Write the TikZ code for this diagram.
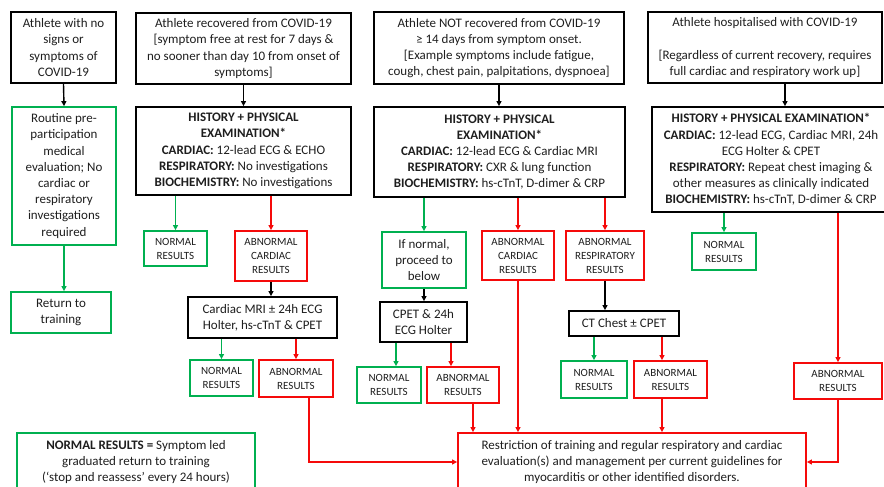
\documentclass[tikz,border=0pt]{standalone}
\usepackage{fontspec}
\setmainfont{Carlito}
\usetikzlibrary{arrows.meta}
\definecolor{gr}{RGB}{0,176,80}
\definecolor{rd}{RGB}{245,10,10}
\definecolor{tx}{RGB}{30,30,30}
\tikzset{
  box/.style={draw=black, line width=1.8pt, inner sep=0pt, align=center, text=tx,
    font=\fontsize{13}{16.2}\selectfont},
  gbox/.style={box, draw=gr},
  rbox/.style={box, draw=rd},
  sm/.style={font=\fontsize{11}{14}\selectfont},
  tip/.style={-{Triangle[length=5pt,width=5pt]}},
  karrow/.style={tip, line width=1.4pt, draw=black},
  garrow/.style={tip, line width=1.4pt, draw=gr},
  rarrow/.style={tip, line width=1.4pt, draw=rd},
}
\begin{document}
\begin{tikzpicture}[x=1pt,y=-1pt]
\useasboundingbox (0,0) rectangle (884,487);
% top row
\node[box, minimum width=105pt, minimum height=71pt] (A) at (63.5,47.5)
  {Athlete with no\\signs or\\symptoms of\\COVID-19};
\node[box, minimum width=215pt, minimum height=71pt] (B) at (243.5,48.5)
  {Athlete recovered from COVID-19\\{[}symptom free at rest for 7 days \&\\no sooner than day 10 from onset of\\symptoms{]}};
\node[box, minimum width=250pt, minimum height=72pt] (D) at (499,48)
  {Athlete NOT recovered from COVID-19\\≥ 14 days from symptom onset.\\{[}Example symptoms include fatigue,\\cough, chest pain, palpitations, dyspnoea{]}};
\node[box, minimum width=234pt, minimum height=71pt] (F) at (765,47.5)
  {Athlete hospitalised with COVID-19\\[16.2pt]{[}Regardless of current recovery, requires\\full cardiac and respiratory work up{]}};
% second row
\node[gbox, minimum width=104pt, minimum height=138pt] (RP) at (64,176)
  {Routine pre-\\participation\\medical\\evaluation; No\\cardiac or\\respiratory\\investigations\\required};
\node[box, minimum width=215pt, minimum height=88pt] (C) at (243.5,151)
  {\textbf{HISTORY + PHYSICAL}\\\textbf{EXAMINATION*}\\\textbf{CARDIAC:} 12-lead ECG \& ECHO\\\textbf{RESPIRATORY:} No investigations\\\textbf{BIOCHEMISTRY:} No investigations};
\node[box, minimum width=251pt, minimum height=90pt] (E) at (499.5,152)
  {\textbf{HISTORY + PHYSICAL}\\\textbf{EXAMINATION*}\\\textbf{CARDIAC:} 12-lead ECG \& Cardiac MRI\\\textbf{RESPIRATORY:} CXR \& lung function\\\textbf{BIOCHEMISTRY:} hs-cTnT, D-dimer \& CRP};
\node[box, minimum width=238pt, minimum height=105pt] (G) at (771,159.5)
  {\textbf{HISTORY + PHYSICAL EXAMINATION*}\\\textbf{CARDIAC:} 12-lead ECG, Cardiac MRI, 24h\\ECG Holter \& CPET\\\textbf{RESPIRATORY:} Repeat chest imaging \&\\other measures as clinically indicated\\\textbf{BIOCHEMISTRY:} hs-cTnT, D-dimer \& CRP};
% third row
\node[gbox, sm, minimum width=63pt, minimum height=35pt] (N1) at (175.5,248.5) {NORMAL\\RESULTS};
\node[rbox, sm, minimum width=72pt, minimum height=50pt] (AC1) at (271,256) {ABNORMAL\\CARDIAC\\RESULTS};
\node[gbox, minimum width=84pt, minimum height=56pt] (IFN) at (424,260) {If normal,\\proceed to\\below};
\node[rbox, sm, minimum width=72pt, minimum height=49pt] (AC2) at (518,255.5) {ABNORMAL\\CARDIAC\\RESULTS};
\node[rbox, sm, minimum width=78pt, minimum height=49pt] (AR) at (605,255.5) {ABNORMAL\\RESPIRATORY\\RESULTS};
\node[gbox, sm, minimum width=64pt, minimum height=37pt] (N6) at (724,251.5) {NORMAL\\RESULTS};
% fourth row
\node[gbox, minimum width=100pt, minimum height=41pt] (RT) at (61,312.5) {Return to\\training};
\node[box, minimum width=149pt, minimum height=41pt] (MRI) at (262.5,317.5) {Cardiac MRI ± 24h ECG\\Holter, hs-cTnT \& CPET};
\node[box, minimum width=87pt, minimum height=40pt] (CPET) at (423.5,322) {CPET \& 24h\\ECG Holter};
\node[box, minimum width=110pt, minimum height=25pt] (CT) at (624,323.5) {CT Chest ± CPET};
% fifth row
\node[gbox, sm, minimum width=63pt, minimum height=36pt] (N2) at (221.5,378) {NORMAL\\RESULTS};
\node[rbox, sm, minimum width=74pt, minimum height=37pt] (AB2) at (296,378.5) {ABNORMAL\\RESULTS};
\node[gbox, sm, minimum width=64pt, minimum height=36pt] (N3) at (389,385) {NORMAL\\RESULTS};
\node[rbox, sm, minimum width=72pt, minimum height=36pt] (AB3) at (463,385) {ABNORMAL\\RESULTS};
\node[gbox, sm, minimum width=66pt, minimum height=37pt] (N5) at (594,379.5) {NORMAL\\RESULTS};
\node[rbox, sm, minimum width=73pt, minimum height=37pt] (AB5) at (670.5,379.5) {ABNORMAL\\RESULTS};
\node[rbox, sm, minimum width=88pt, minimum height=36pt] (AB6) at (838,381) {ABNORMAL\\RESULTS};
% bottom
\node[gbox, minimum width=238pt, minimum height=58pt] (NR) at (136,462)
  {\textbf{NORMAL RESULTS =} Symptom led\\graduated return to training\\(‘stop and reassess’ every 24 hours)};
\node[rbox, minimum width=348pt, minimum height=58pt] (R) at (632,462)
  {Restriction of training and regular respiratory and cardiac\\evaluation(s) and management per current guidelines for\\myocarditis or other identified disorders.};
% helper coordinates
\coordinate (f1) at ([xshift=20pt]F.south);
\coordinate (n3) at ([xshift=7pt]N3.north);
\coordinate (a3t) at ([xshift=-12pt]AB3.north);
\coordinate (a3b) at ([xshift=10pt]AB3.south);
\coordinate (a5t) at ([xshift=-8.5pt]AB5.north);
\coordinate (a5b) at ([xshift=-8.5pt]AB5.south);
\coordinate (a2b) at ([xshift=13pt]AB2.south);
% connectors
\draw[karrow] (A.south) -- (RP.north);
\draw[garrow] (RP.south) -- (RP.south |- RT.north);
\draw[karrow] (B.south) -- (C.north);
\draw[karrow] (D.south) -- (D.south |- E.north);
\draw[karrow] (f1) -- (f1 |- G.north);
\draw[garrow] (C.south -| N1.north) -- (N1.north);
\draw[rarrow] (C.south -| AC1.north) -- (AC1.north);
\draw[karrow] (AC1.south) -- (AC1.south |- MRI.north);
\draw[garrow] (MRI.south -| N2.north) -- (N2.north);
\draw[rarrow] (MRI.south -| AB2.north) -- (AB2.north);
\draw[rarrow] (a2b) |- (R.west);
\draw[garrow] (E.south -| IFN.north) -- (IFN.north);
\draw[rarrow] (E.south -| AC2.north) -- (AC2.north);
\draw[rarrow] (E.south -| AR.north) -- (AR.north);
\draw[karrow] (IFN.south) -- (IFN.south |- CPET.north);
\draw[garrow] (CPET.south -| n3) -- (n3);
\draw[rarrow] (CPET.south -| a3t) -- (a3t);
\draw[rarrow] (a3b) -- (a3b |- R.north);
\draw[rarrow] (AC2.south) -- (AC2.south |- R.north);
\draw[karrow] (AR.south) -- (AR.south |- CT.north);
\draw[garrow] (CT.south -| N5.north) -- (N5.north);
\draw[rarrow] (CT.south -| a5t) -- (a5t);
\draw[rarrow] (a5b) -- (a5b |- R.north);
\draw[garrow] (G.south -| N6.north) -- (N6.north);
\draw[rarrow] (G.south -| AB6.north) -- (AB6.north);
\draw[rarrow] (AB6.south) |- (R.east);
\end{tikzpicture}
\end{document}
